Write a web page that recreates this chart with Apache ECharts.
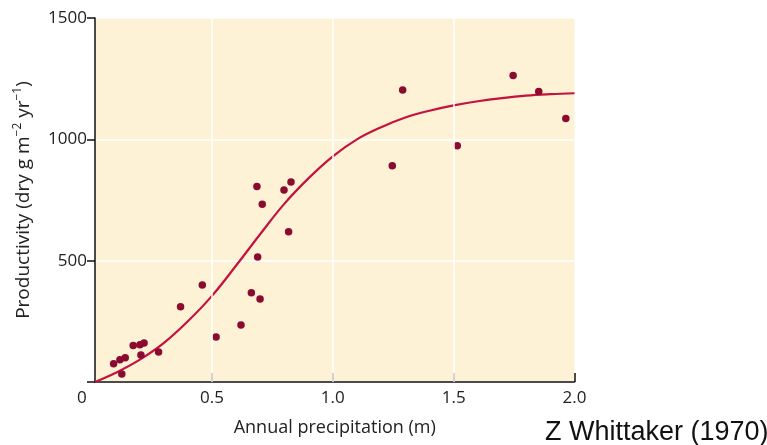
<!DOCTYPE html>
<html>
<head>
<meta charset="utf-8">
<script src="https://cdn.jsdelivr.net/npm/echarts@6/dist/echarts.min.js"></script>
<style>
html,body{margin:0;padding:0;background:#fff;}
#c{width:767px;height:445px;}
</style>
</head>
<body>
<div id="c"></div>
<script>
// Observed sites: annual precipitation (m) and productivity (dry g m^-2 yr^-1)
var pointsX = [0.093, 0.119, 0.141, 0.127, 0.174, 0.202, 0.219, 0.206, 0.279, 0.370, 0.460, 0.517, 0.620, 0.663, 0.699,
               0.686, 0.708, 0.798, 0.827, 0.817, 0.689,
               1.289, 1.246, 1.515, 1.746, 1.852, 1.964];
var pointsY = [75, 92, 100, 33, 150, 154, 161, 111, 124, 310, 400, 185, 235, 368, 342,
               806, 733, 791, 824, 619, 515,
               1203, 891, 974, 1263, 1197, 1086];
// Fitted curve
var curveX = [0.016, 0.10, 0.20, 0.30, 0.40, 0.50, 0.60, 0.70, 0.80, 0.90, 1.00, 1.10, 1.20, 1.30, 1.40, 1.50, 1.60, 1.70, 1.80, 1.90, 2.00];
var curveY = [0, 37, 91, 160, 250, 355, 480, 610, 735, 840, 930, 1000, 1050, 1090, 1118, 1140, 1157, 1170, 1180, 1186, 1190];
// Axis ticks
var xTicks = [0.5, 1.0, 1.5, 2.0];
var xGrid = [0.5, 1.0, 1.5];
var yTicks = [0, 500, 1000, 1500];

var xName = 'Annual precipitation (m)';
var yName = '{a|Productivity (dry g m}{s|\u22122}{a| yr}{s|\u22121}{a|)}';
var credit = 'Z Whittaker (1970)';

var font = '"Open Sans", sans-serif';
var chart = echarts.init(document.getElementById('c'), null, {renderer: 'canvas'});

chart.setOption({
  animation: false,
  backgroundColor: '#ffffff',
  grid: {
    left: 95, right: 192.5, top: 18, bottom: 63,
    show: true, backgroundColor: '#FDF1D6', borderWidth: 0,
    containLabel: false, outerBoundsMode: 'none'
  },
  xAxis: {
    type: 'value',
    min: 0.016, max: 2.0,
    name: xName,
    nameLocation: 'middle',
    nameGap: 37,
    nameTextStyle: {fontFamily: font, fontSize: 18, color: '#222'},
    axisLine: {show: true, onZero: false, lineStyle: {color: '#111', width: 1.5}},
    axisTick: {show: true, inside: true, length: 9, customValues: xTicks, lineStyle: {color: '#111', width: 1.5}},
    axisLabel: {show: true, customValues: xTicks, margin: 8, fontFamily: font, fontSize: 17, color: '#222',
      formatter: function (v) { return v.toFixed(1); }},
    splitLine: {show: false}
  },
  yAxis: {
    type: 'value',
    min: 0, max: 1500, interval: 500,
    name: yName,
    nameLocation: 'middle',
    nameGap: 60,
    nameRotate: 90,
    nameTextStyle: {
      fontFamily: font, fontSize: 19, color: '#222',
      rich: {
        a: {fontFamily: font, fontSize: 19, color: '#222', lineHeight: 23},
        s: {fontFamily: font, fontSize: 12, color: '#222', lineHeight: 15, verticalAlign: 'top'}
      }
    },
    axisLine: {show: true, lineStyle: {color: '#111', width: 1.5}},
    axisTick: {show: true, inside: false, length: 8, lineStyle: {color: '#111', width: 1.5}},
    axisLabel: {show: true, margin: 8, fontFamily: font, fontSize: 17, color: '#222',
      formatter: function (v) { return v === 0 ? '' : String(v); }},
    splitLine: {show: true, lineStyle: {color: '#ffffff', width: 1.5}}
  },
  graphic: [
    {type: 'text', left: 77, top: 390, z: 10,
     style: {text: '0', font: '17px ' + font, fill: '#222'}},
    {type: 'text', left: 545, top: 419, z: 10,
     style: {text: credit, font: '27px "Liberation Sans", Arial, sans-serif', fill: '#111'}}
  ],
  series: [
    {
      type: 'line', z: 1, data: [], silent: true,
      markLine: {
        silent: true, symbol: 'none', animation: false,
        label: {show: false},
        lineStyle: {color: '#ffffff', width: 1.5, type: 'solid'},
        data: xGrid.map(function (v) { return {xAxis: v}; })
      }
    },
    {
      type: 'line', z: 3, smooth: 0.4, showSymbol: false, silent: true,
      lineStyle: {color: '#C4123E', width: 2.2},
      data: curveX.map(function (x, i) { return [x, curveY[i]]; })
    },
    {
      type: 'scatter', z: 4, symbolSize: 7.5, silent: true,
      itemStyle: {color: '#8A0A30', opacity: 1},
      data: pointsX.map(function (x, i) { return [x, pointsY[i]]; })
    }
  ]
});
</script>
</body>
</html>
